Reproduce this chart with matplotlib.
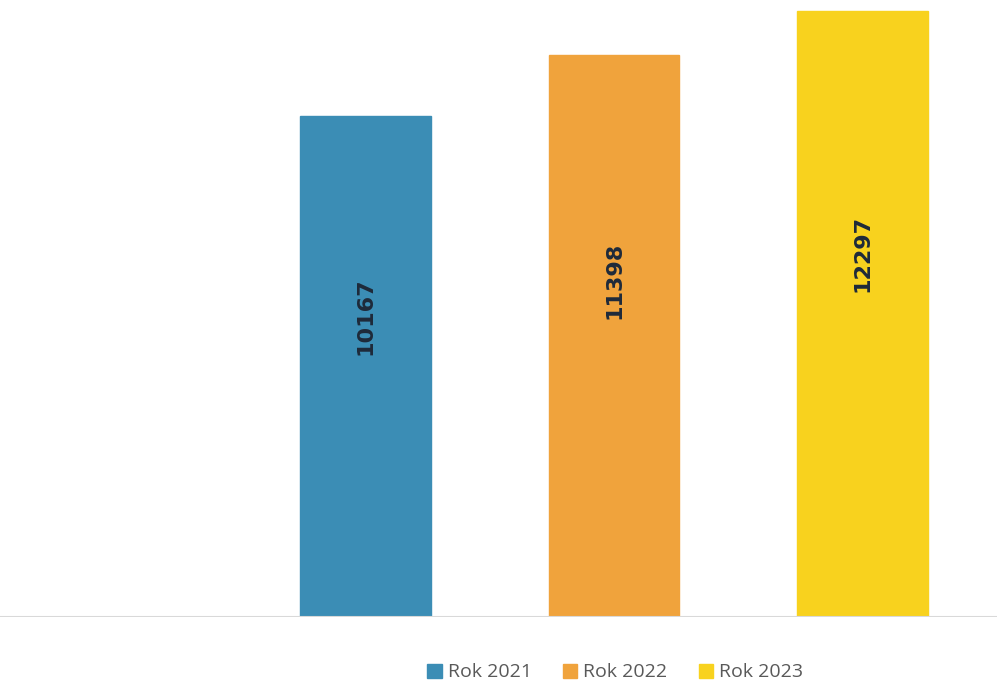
import matplotlib.pyplot as plt
from matplotlib.patches import Patch

years = ["Rok 2021", "Rok 2022", "Rok 2023"]
values = [10167, 11398, 12297]
colors = ["#3b8db5", "#f0a33c", "#f8d21e"]

fig = plt.figure(figsize=(9.97, 6.82), dpi=100)
ax = fig.add_axes([0, 0.0953, 1, 0.9047])

x = range(len(values))
bars = ax.bar(x, values, width=0.525, color=colors, edgecolor=colors)

for xi, v in zip(x, values):
    ax.text(xi, v * 0.6, str(v), rotation=90, ha="center", va="center",
            fontsize=16, fontweight="bold", color="#1e2a3a", family="DejaVu Sans")

ax.set_xlim(-1.47, 2.54)
ax.set_ylim(0, 12520)
ax.axhline(0, color="#d9d9d9", linewidth=1.5)
for s in ax.spines.values():
    s.set_visible(False)
ax.set_xticks([])
ax.set_yticks([])

handles = [Patch(facecolor=c, edgecolor=c) for c in colors]
fig.legend(handles, years, loc="center", bbox_to_anchor=(0.617, 0.014),
           ncol=3, frameon=False, handlelength=0.75, handleheight=0.75,
           handletextpad=0.3, columnspacing=1.6, labelcolor="#595959",
           prop={"family": "Open Sans", "size": 14})

fig.savefig("out.png", dpi=100)
